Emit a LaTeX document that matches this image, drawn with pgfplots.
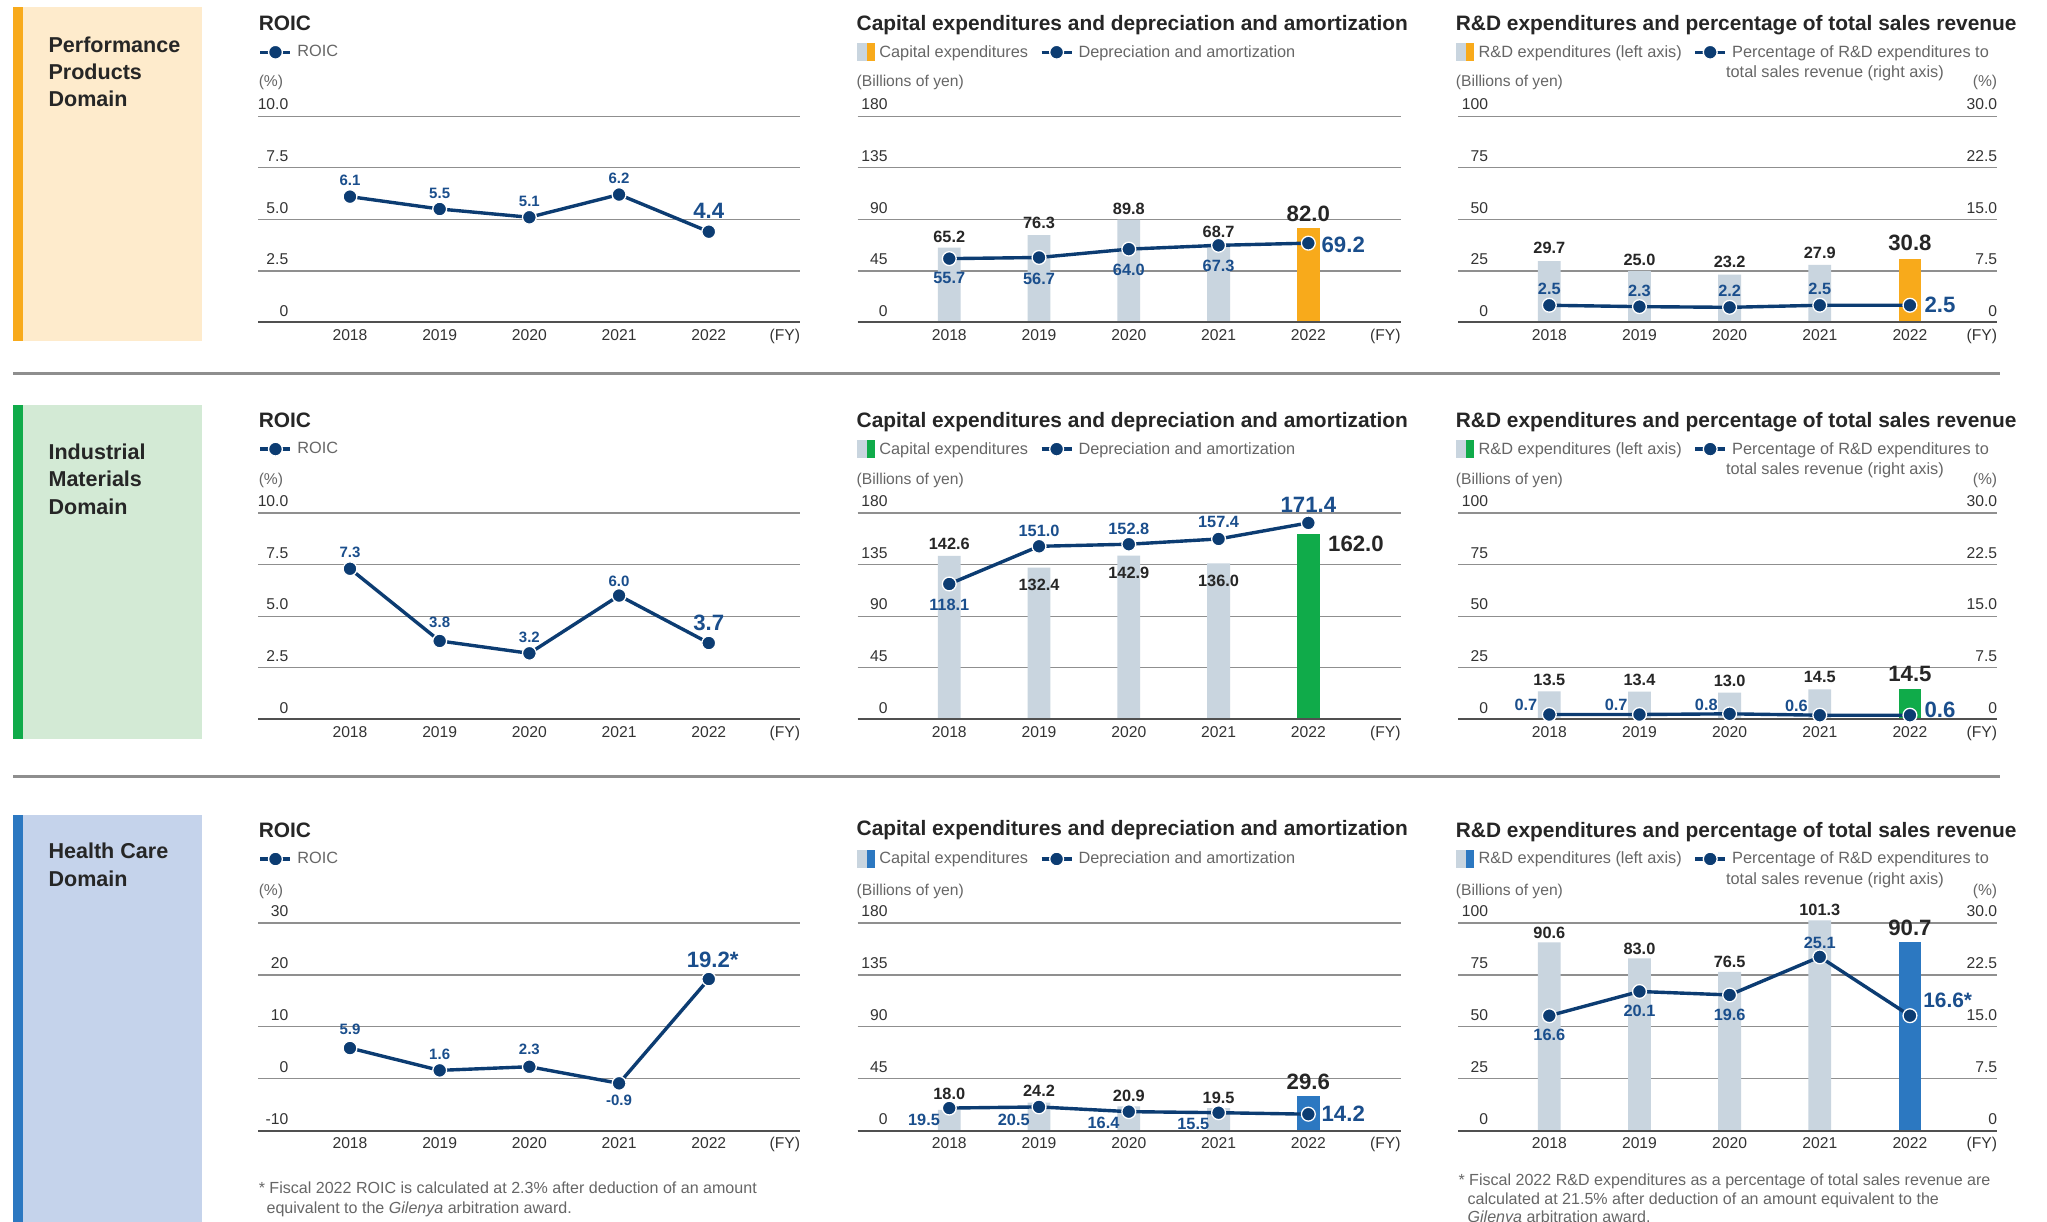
\documentclass[border=0pt]{standalone}
\usepackage{fontspec}
\setmainfont{Liberation Sans}
\usepackage{pgfplots}
\pgfplotsset{compat=1.18}

\definecolor{navy}{HTML}{0C3C72}
\definecolor{labb}{HTML}{1A4E8C}
\definecolor{labk}{HTML}{262626}
\definecolor{barg}{HTML}{C9D5DF}
\definecolor{accO}{HTML}{F8AA1B}
\definecolor{bgO}{HTML}{FEEBCC}
\definecolor{accG}{HTML}{10AB4A}
\definecolor{bgG}{HTML}{D3EAD5}
\definecolor{accB}{HTML}{2C78C1}
\definecolor{bgB}{HTML}{C5D3EB}
\definecolor{gridc}{HTML}{8F8F8F}
\definecolor{basec}{HTML}{505050}
\definecolor{tickc}{HTML}{333333}
\definecolor{legc}{HTML}{666666}
\definecolor{sepc}{HTML}{8E8E8E}

\newcommand\fA{\fontsize{12}{14}\selectfont}
\newcommand\fL{\fontsize{12.5}{14}\selectfont}
\newcommand\fT{\fontsize{16}{19}\selectfont\bfseries}
\newcommand\fD{\fontsize{16.5}{21}\selectfont\bfseries}
\newcommand\fV{\fontsize{12.5}{14}\selectfont\bfseries}
\newcommand\fR{\fontsize{11.5}{13}\selectfont\bfseries}
\newcommand\fB{\fontsize{17}{19}\selectfont\bfseries}
\newcommand\fN{\fontsize{12.3}{14}\selectfont}

\pgfplotsset{
 panel/.style={scale only axis, clip=false, anchor=south west,
   axis line style={draw=none}, major tick length=0pt, tick style={draw=none},
   ymajorgrids, grid style={draw=gridc, line width=1pt},
   xtick={2018,2019,2020,2021,2022}, xticklabels={2018,2019,2020,2021,2022},
   xticklabel style={font=\fA, text=tickc, anchor=north, inner sep=0pt, yshift=-5.5pt},
   /pgf/number format/assume math mode=true},
 leftlab/.style={yticklabel style={font=\fA, text=tickc, anchor=south east, inner sep=0pt, xshift=23pt, yshift=4.5pt}},
 rightlab/.style={yticklabel pos=right, yticklabel style={font=\fA, text=tickc, anchor=south east, inner sep=0pt, yshift=4.5pt}},
 leg/.style={legend columns=-1, legend style={draw=none, fill=none, at={(0,1)}, anchor=west, xshift=#1, yshift=49pt, inner sep=0pt, font=\fL, text=legc, nodes={inner sep=0pt}, /tikz/every odd column/.append style={column sep=4pt}, /tikz/every even column/.append style={column sep=9pt}}},
 legline/.style={legend image code/.code={\draw[navy, line width=2.6pt] (0pt,0pt) -- (23pt,0pt); \path plot[mark=*, mark size=5.3pt, mark options={fill=navy, draw=white, line width=1pt}] coordinates {(11.5pt,0pt)};}},
 legbar/.style={legend image code/.code={\fill[barg] (0pt,-6.5pt) rectangle (8pt,6.5pt); \fill[#1] (8pt,-6.5pt) rectangle (13pt,6.5pt);}},
 dline/.style={navy, line width=2.6pt, mark=*, mark size=5.3pt, mark options={fill=navy, draw=white, line width=1pt}, forget plot},
 bars/.style={ybar, bar width=17.5pt, bar shift=0pt, draw=none, fill=#1, forget plot},
}
\tikzset{
 vk/.style={font=\fV, text=labk, inner sep=0pt},
 vb/.style={font=\fV, text=labb, inner sep=0pt},
 vr/.style={font=\fR, text=labb, inner sep=0pt},
 bk/.style={font=\fB, text=labk, inner sep=0pt},
 bb/.style={font=\fB, text=labb, inner sep=0pt},
 baseln/.style={basec, line width=1.5pt},
 fy/.style={font=\fA, text=tickc, anchor=north east, inner sep=0pt, yshift=-5pt},
 ttl/.style={anchor=base west, inner sep=0pt, font=\fT, text=labk},
 unit/.style={anchor=base west, inner sep=0pt, font=\fA, text=legc},
 dom/.style={anchor=base west, inner sep=0pt, font=\fD, text=labk},
 note/.style={anchor=base west, inner sep=0pt, font=\fN, text=legc},
 leg2/.style={anchor=base west, inner sep=0pt, font=\fL, text=legc},
}

\begin{document}
\begin{tikzpicture}
\useasboundingbox (0pt,0pt) rectangle (1568pt,-936pt);
\clip (0pt,0pt) rectangle (1568pt,-936pt);
\fill[white] (0pt,0pt) rectangle (1568pt,-936pt);

% domain boxes
\fill[bgO] (10pt,-5pt) rectangle (155pt,-261pt);
\fill[accO] (10pt,-5pt) rectangle (18pt,-261pt);
\fill[bgG] (10pt,-310pt) rectangle (155pt,-566pt);
\fill[accG] (10pt,-310pt) rectangle (18pt,-566pt);
\fill[bgB] (10pt,-624pt) rectangle (155pt,-945pt);
\fill[accB] (10pt,-624pt) rectangle (18pt,-945pt);
\node[dom] at (37pt,-39.9pt) {Performance};
\node[dom] at (37pt,-60.9pt) {Products};
\node[dom] at (37pt,-81.9pt) {Domain};
\node[dom] at (37pt,-351.9pt) {Industrial};
\node[dom] at (37pt,-372.9pt) {Materials};
\node[dom] at (37pt,-393.9pt) {Domain};
\node[dom] at (37pt,-657.9pt) {Health Care};
\node[dom] at (37pt,-678.9pt) {Domain};

\draw[sepc, line width=2pt] (10pt,-286pt) -- (1532pt,-286pt);
\draw[sepc, line width=2pt] (10pt,-595pt) -- (1532pt,-595pt);

% titles and units
\node[ttl] at (198pt,-23.7pt) {ROIC};
\node[ttl] at (656pt,-23.7pt) {Capital expenditures and depreciation and amortization};
\node[ttl] at (1115pt,-23.7pt) {R\&D expenditures and percentage of total sales revenue};
\node[unit] at (198pt,-66.3pt) {(\%)};
\node[unit] at (656pt,-66.3pt) {(Billions of yen)};
\node[unit] at (1115pt,-66.3pt) {(Billions of yen)};
\node[unit, anchor=base east] at (1530pt,-66.3pt) {(\%)};
\node[leg2] at (1322pt,-59.5pt) {total sales revenue (right axis)};

\node[ttl] at (198pt,-327.7pt) {ROIC};
\node[ttl] at (656pt,-327.7pt) {Capital expenditures and depreciation and amortization};
\node[ttl] at (1115pt,-327.7pt) {R\&D expenditures and percentage of total sales revenue};
\node[unit] at (198pt,-371.3pt) {(\%)};
\node[unit] at (656pt,-371.3pt) {(Billions of yen)};
\node[unit] at (1115pt,-371.3pt) {(Billions of yen)};
\node[unit, anchor=base east] at (1530pt,-371.3pt) {(\%)};
\node[leg2] at (1322pt,-363.5pt) {total sales revenue (right axis)};

\node[ttl] at (198pt,-641.7pt) {ROIC};
\node[ttl] at (656pt,-639.7pt) {Capital expenditures and depreciation and amortization};
\node[ttl] at (1115pt,-641.7pt) {R\&D expenditures and percentage of total sales revenue};
\node[unit] at (198pt,-686.3pt) {(\%)};
\node[unit] at (656pt,-686.3pt) {(Billions of yen)};
\node[unit] at (1115pt,-686.3pt) {(Billions of yen)};
\node[unit, anchor=base east] at (1530pt,-686.3pt) {(\%)};
\node[leg2] at (1322pt,-677.5pt) {total sales revenue (right axis)};

% footnotes
\node[note] at (198pt,-914.3pt) {* Fiscal 2022 ROIC is calculated at 2.3\% after deduction of an amount};
\node[note] at (204pt,-929.3pt) {equivalent to the \textit{Gilenya} arbitration award.};
\node[note] at (1117pt,-908.3pt) {* Fiscal 2022 R\&D expenditures as a percentage of total sales revenue are};
\node[note] at (1124pt,-922.3pt) {calculated at 21.5\% after deduction of an amount equivalent to the};
\node[note] at (1124pt,-936.3pt) {\textit{Gilenya} arbitration award.};

%================ ROW 1 =================
\begin{axis}[panel, leftlab, leg=0pt, at={(198pt,-247pt)}, width=415pt, height=158pt,
  xmin=2016.98, xmax=2023.02, ymin=0, ymax=10, ytick={0,2.5,5,7.5,10}, yticklabels={0,2.5,5.0,7.5,10.0}]
\addlegendimage{legline}\addlegendentry{ROIC}
\addplot[dline] coordinates {(2018,6.1)(2019,5.5)(2020,5.1)(2021,6.2)(2022,4.4)};
\draw[baseln] (rel axis cs:0,0) -- (rel axis cs:1,0);
\node[fy] at (rel axis cs:1,0) {(FY)};
\node[vr, anchor=south, yshift=8pt] at (axis cs:2018,6.1) {6.1};
\node[vr, anchor=south, yshift=8pt] at (axis cs:2019,5.5) {5.5};
\node[vr, anchor=south, yshift=8pt] at (axis cs:2020,5.1) {5.1};
\node[vr, anchor=south, yshift=8pt] at (axis cs:2021,6.2) {6.2};
\node[bb, anchor=south, yshift=10pt] at (axis cs:2022,4.4) {4.4};
\end{axis}

\begin{axis}[panel, leftlab, leg=-1pt, at={(657pt,-247pt)}, width=416pt, height=158pt,
  xmin=2016.98, xmax=2023.03, ymin=0, ymax=180, ytick={0,45,90,135,180}, yticklabels={0,45,90,135,180}]
\addlegendimage{legbar=accO}\addlegendentry{Capital expenditures}
\addlegendimage{legline}\addlegendentry{Depreciation and amortization}
\addplot[bars=barg] coordinates {(2018,65.2)(2019,76.3)(2020,89.8)(2021,68.7)};
\addplot[bars=accO] coordinates {(2022,82.0)};
\addplot[dline] coordinates {(2018,55.7)(2019,56.7)(2020,64.0)(2021,67.3)(2022,69.2)};
\draw[baseln] (rel axis cs:0,0) -- (rel axis cs:1,0);
\node[fy] at (rel axis cs:1,0) {(FY)};
\node[vk, anchor=south, yshift=4pt] at (axis cs:2018,65.2) {65.2};
\node[vk, anchor=south, yshift=4.4pt] at (axis cs:2019,76.3) {76.3};
\node[vk, anchor=south, yshift=3.6pt] at (axis cs:2020,89.8) {89.8};
\node[vk, anchor=south, yshift=4.2pt] at (axis cs:2021,68.7) {68.7};
\node[bk, anchor=south, yshift=5pt] at (axis cs:2022,82.0) {82.0};
\node[vb, anchor=north, yshift=-10.6pt] at (axis cs:2018,55.7) {55.7};
\node[vb, anchor=north, yshift=-11.5pt] at (axis cs:2019,56.7) {56.7};
\node[vb, anchor=north, yshift=-11pt] at (axis cs:2020,64.0) {64.0};
\node[vb, anchor=north, yshift=-11pt] at (axis cs:2021,67.3) {67.3};
\node[bb, anchor=west, xshift=10pt, yshift=-1pt] at (axis cs:2022,69.2) {69.2};
\end{axis}

\begin{axis}[panel, leftlab, leg=-2pt, at={(1117pt,-247pt)}, width=413pt, height=158pt,
  xmin=2016.99, xmax=2022.97, ymin=0, ymax=100, ytick={0,25,50,75,100}, yticklabels={0,25,50,75,100}]
\addlegendimage{legbar=accO}\addlegendentry{R\&D expenditures (left axis)}
\addlegendimage{legline}\addlegendentry{Percentage of R\&D expenditures to}
\addplot[bars=barg] coordinates {(2018,29.7)(2019,25.0)(2020,23.2)(2021,27.9)};
\addplot[bars=accO] coordinates {(2022,30.8)};
\draw[baseln] (rel axis cs:0,0) -- (rel axis cs:1,0);
\node[fy] at (rel axis cs:1,0) {(FY)};
\node[vk, anchor=south, yshift=5.6pt] at (axis cs:2018,29.7) {29.7};
\node[vk, anchor=south, yshift=4pt] at (axis cs:2019,25.0) {25.0};
\node[vk, anchor=south, yshift=4.8pt] at (axis cs:2020,23.2) {23.2};
\node[vk, anchor=south, yshift=4.4pt] at (axis cs:2021,27.9) {27.9};
\node[bk, anchor=south, yshift=6.3pt] at (axis cs:2022,30.8) {30.8};
\end{axis}
\begin{axis}[panel, rightlab, at={(1117pt,-247pt)}, width=413pt, height=158pt,
  xmin=2016.99, xmax=2022.97, ymin=0, ymax=30, ytick={0,7.5,15,22.5,30}, yticklabels={0,7.5,15.0,22.5,30.0},
  ymajorgrids=false, xtick=\empty]
\addplot[dline] coordinates {(2018,2.5)(2019,2.3)(2020,2.2)(2021,2.5)(2022,2.5)};
\node[vb, anchor=south, yshift=8.3pt] at (axis cs:2018,2.5) {2.5};
\node[vb, anchor=south, yshift=7.4pt] at (axis cs:2019,2.3) {2.3};
\node[vb, anchor=south, yshift=7.9pt] at (axis cs:2020,2.2) {2.2};
\node[vb, anchor=south, yshift=8.3pt] at (axis cs:2021,2.5) {2.5};
\node[bb, anchor=west, xshift=11pt] at (axis cs:2022,2.5) {2.5};
\end{axis}

%================ ROW 2 =================
\begin{axis}[panel, leftlab, leg=0pt, at={(198pt,-551pt)}, width=415pt, height=158pt,
  xmin=2016.98, xmax=2023.02, ymin=0, ymax=10, ytick={0,2.5,5,7.5,10}, yticklabels={0,2.5,5.0,7.5,10.0}]
\addlegendimage{legline}\addlegendentry{ROIC}
\addplot[dline] coordinates {(2018,7.3)(2019,3.8)(2020,3.2)(2021,6.0)(2022,3.7)};
\draw[baseln] (rel axis cs:0,0) -- (rel axis cs:1,0);
\node[fy] at (rel axis cs:1,0) {(FY)};
\node[vr, anchor=south, yshift=8pt] at (axis cs:2018,7.3) {7.3};
\node[vr, anchor=south, yshift=10pt] at (axis cs:2019,3.8) {3.8};
\node[vr, anchor=south, yshift=8pt] at (axis cs:2020,3.2) {3.2};
\node[vr, anchor=south, yshift=7pt] at (axis cs:2021,6.0) {6.0};
\node[bb, anchor=south, yshift=9pt] at (axis cs:2022,3.7) {3.7};
\end{axis}

\begin{axis}[panel, leftlab, leg=-1pt, at={(657pt,-551pt)}, width=416pt, height=158pt,
  xmin=2016.98, xmax=2023.03, ymin=0, ymax=180, ytick={0,45,90,135,180}, yticklabels={0,45,90,135,180}]
\addlegendimage{legbar=accG}\addlegendentry{Capital expenditures}
\addlegendimage{legline}\addlegendentry{Depreciation and amortization}
\addplot[bars=barg] coordinates {(2018,142.6)(2019,132.4)(2020,142.9)(2021,136.0)};
\addplot[bars=accG] coordinates {(2022,162.0)};
\addplot[dline] coordinates {(2018,118.1)(2019,151.0)(2020,152.8)(2021,157.4)(2022,171.4)};
\draw[baseln] (rel axis cs:0,0) -- (rel axis cs:1,0);
\node[fy] at (rel axis cs:1,0) {(FY)};
\node[vk, anchor=south, yshift=4.3pt] at (axis cs:2018,142.6) {142.6};
\node[vk, anchor=north, yshift=-8.7pt] at (axis cs:2019,132.4) {132.4};
\node[vk, anchor=north, yshift=-8.9pt] at (axis cs:2020,142.9) {142.9};
\node[vk, anchor=north, yshift=-8.9pt] at (axis cs:2021,136.0) {136.0};
\node[bk, anchor=west, xshift=15pt, yshift=-8pt] at (axis cs:2022,162.0) {162.0};
\node[vb, anchor=north, yshift=-11pt] at (axis cs:2018,118.1) {118.1};
\node[vb, anchor=south, yshift=7pt] at (axis cs:2019,151.0) {151.0};
\node[vb, anchor=south, yshift=7.4pt] at (axis cs:2020,152.8) {152.8};
\node[vb, anchor=south, yshift=8.3pt] at (axis cs:2021,157.4) {157.4};
\node[bb, anchor=south, yshift=7.5pt] at (axis cs:2022,171.4) {171.4};
\end{axis}

\begin{axis}[panel, leftlab, leg=-2pt, at={(1117pt,-551pt)}, width=413pt, height=158pt,
  xmin=2016.99, xmax=2022.97, ymin=0, ymax=100, ytick={0,25,50,75,100}, yticklabels={0,25,50,75,100}]
\addlegendimage{legbar=accG}\addlegendentry{R\&D expenditures (left axis)}
\addlegendimage{legline}\addlegendentry{Percentage of R\&D expenditures to}
\addplot[bars=barg] coordinates {(2018,13.5)(2019,13.4)(2020,13.0)(2021,14.5)};
\addplot[bars=accG] coordinates {(2022,14.5)};
\draw[baseln] (rel axis cs:0,0) -- (rel axis cs:1,0);
\node[fy] at (rel axis cs:1,0) {(FY)};
\node[vk, anchor=south, yshift=4.2pt] at (axis cs:2018,13.5) {13.5};
\node[vk, anchor=south, yshift=4.3pt] at (axis cs:2019,13.4) {13.4};
\node[vk, anchor=south, yshift=4pt] at (axis cs:2020,13.0) {13.0};
\node[vk, anchor=south, yshift=4.6pt] at (axis cs:2021,14.5) {14.5};
\node[bk, anchor=south, yshift=6pt] at (axis cs:2022,14.5) {14.5};
\end{axis}
\begin{axis}[panel, rightlab, at={(1117pt,-551pt)}, width=413pt, height=158pt,
  xmin=2016.99, xmax=2022.97, ymin=0, ymax=30, ytick={0,7.5,15,22.5,30}, yticklabels={0,7.5,15.0,22.5,30.0},
  ymajorgrids=false, xtick=\empty]
\addplot[dline] coordinates {(2018,0.7)(2019,0.7)(2020,0.8)(2021,0.6)(2022,0.6)};
\node[vb, anchor=east, xshift=-9pt, yshift=7pt] at (axis cs:2018,0.7) {0.7};
\node[vb, anchor=east, xshift=-9pt, yshift=7pt] at (axis cs:2019,0.7) {0.7};
\node[vb, anchor=east, xshift=-9pt, yshift=7pt] at (axis cs:2020,0.8) {0.8};
\node[vb, anchor=east, xshift=-9pt, yshift=7pt] at (axis cs:2021,0.6) {0.6};
\node[bb, anchor=west, xshift=11pt, yshift=4pt] at (axis cs:2022,0.6) {0.6};
\end{axis}

%================ ROW 3 =================
\begin{axis}[panel, leftlab, leg=0pt, at={(198pt,-866pt)}, width=415pt, height=159pt,
  xmin=2016.98, xmax=2023.02, ymin=-10, ymax=30, ytick={-10,0,10,20,30}, yticklabels={-10,0,10,20,30}]
\addlegendimage{legline}\addlegendentry{ROIC}
\addplot[dline] coordinates {(2018,5.9)(2019,1.6)(2020,2.3)(2021,-0.9)(2022,19.2)};
\draw[baseln] (rel axis cs:0,0) -- (rel axis cs:1,0);
\node[fy] at (rel axis cs:1,0) {(FY)};
\node[vr, anchor=south, yshift=10pt] at (axis cs:2018,5.9) {5.9};
\node[vr, anchor=south, yshift=8pt] at (axis cs:2019,1.6) {1.6};
\node[vr, anchor=south, yshift=9pt] at (axis cs:2020,2.3) {2.3};
\node[vr, anchor=north, yshift=-9pt] at (axis cs:2021,-0.9) {-0.9};
\node[bb, anchor=south, yshift=8.5pt, xshift=3pt] at (axis cs:2022,19.2) {19.2*};
\end{axis}

\begin{axis}[panel, leftlab, leg=-1pt, at={(657pt,-866pt)}, width=416pt, height=159pt,
  xmin=2016.98, xmax=2023.03, ymin=0, ymax=180, ytick={0,45,90,135,180}, yticklabels={0,45,90,135,180}]
\addlegendimage{legbar=accB}\addlegendentry{Capital expenditures}
\addlegendimage{legline}\addlegendentry{Depreciation and amortization}
\addplot[bars=barg] coordinates {(2018,18.0)(2019,24.2)(2020,20.9)(2021,19.5)};
\addplot[bars=accB] coordinates {(2022,29.6)};
\addplot[dline] coordinates {(2018,19.5)(2019,20.5)(2020,16.4)(2021,15.5)(2022,14.2)};
\draw[baseln] (rel axis cs:0,0) -- (rel axis cs:1,0);
\node[fy] at (rel axis cs:1,0) {(FY)};
\node[vk, anchor=south, yshift=7.6pt] at (axis cs:2018,18.0) {18.0};
\node[vk, anchor=south, yshift=4.6pt] at (axis cs:2019,24.2) {24.2};
\node[vk, anchor=south, yshift=3.5pt] at (axis cs:2020,20.9) {20.9};
\node[vk, anchor=south, yshift=3pt] at (axis cs:2021,19.5) {19.5};
\node[bk, anchor=south, yshift=5pt] at (axis cs:2022,29.6) {29.6};
\node[vb, anchor=east, xshift=-7pt, yshift=-9pt] at (axis cs:2018,19.5) {19.5};
\node[vb, anchor=east, xshift=-7pt, yshift=-10pt] at (axis cs:2019,20.5) {20.5};
\node[vb, anchor=east, xshift=-7pt, yshift=-8.5pt] at (axis cs:2020,16.4) {16.4};
\node[vb, anchor=east, xshift=-7pt, yshift=-8.7pt] at (axis cs:2021,15.5) {15.5};
\node[bb, anchor=west, xshift=10pt] at (axis cs:2022,14.2) {14.2};
\end{axis}

\begin{axis}[panel, leftlab, leg=-2pt, at={(1117pt,-866pt)}, width=413pt, height=159pt,
  xmin=2016.99, xmax=2022.97, ymin=0, ymax=100, ytick={0,25,50,75,100}, yticklabels={0,25,50,75,100}]
\addlegendimage{legbar=accB}\addlegendentry{R\&D expenditures (left axis)}
\addlegendimage{legline}\addlegendentry{Percentage of R\&D expenditures to}
\addplot[bars=barg] coordinates {(2018,90.6)(2019,83.0)(2020,76.5)(2021,101.3)};
\addplot[bars=accB] coordinates {(2022,90.7)};
\draw[baseln] (rel axis cs:0,0) -- (rel axis cs:1,0);
\node[fy] at (rel axis cs:1,0) {(FY)};
\node[vk, anchor=south, yshift=3pt] at (axis cs:2018,90.6) {90.6};
\node[vk, anchor=south, yshift=2.8pt] at (axis cs:2019,83.0) {83.0};
\node[vk, anchor=south, yshift=3.3pt] at (axis cs:2020,76.5) {76.5};
\node[vk, anchor=south, yshift=3.1pt] at (axis cs:2021,101.3) {101.3};
\node[bk, anchor=south, yshift=4.7pt] at (axis cs:2022,90.7) {90.7};
\end{axis}
\begin{axis}[panel, rightlab, at={(1117pt,-866pt)}, width=413pt, height=159pt,
  xmin=2016.99, xmax=2022.97, ymin=0, ymax=30, ytick={0,7.5,15,22.5,30}, yticklabels={0,7.5,15.0,22.5,30.0},
  ymajorgrids=false, xtick=\empty]
\addplot[dline] coordinates {(2018,16.6)(2019,20.1)(2020,19.6)(2021,25.1)(2022,16.6)};
\node[vb, anchor=north, yshift=-10.3pt] at (axis cs:2018,16.6) {16.6};
\node[vb, anchor=north, yshift=-10.2pt] at (axis cs:2019,20.1) {20.1};
\node[vb, anchor=north, yshift=-10.4pt] at (axis cs:2020,19.6) {19.6};
\node[vb, anchor=south, yshift=6.4pt] at (axis cs:2021,25.1) {25.1};
\node[bb, font=\fontsize{16}{18}\selectfont\bfseries, anchor=west, xshift=10pt, yshift=12pt] at (axis cs:2022,16.6) {16.6*};
\end{axis}
\end{tikzpicture}
\end{document}
